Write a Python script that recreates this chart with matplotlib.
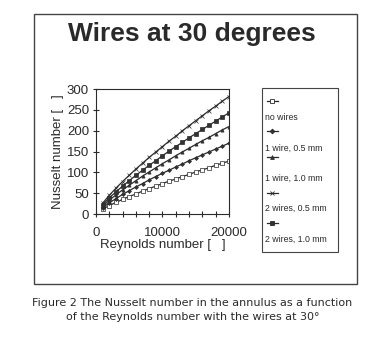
import matplotlib
matplotlib.use("Agg")
import matplotlib.pyplot as plt
from matplotlib.lines import Line2D
from matplotlib.patches import Rectangle
from matplotlib.ticker import MultipleLocator

# data
reynolds = [1000, 2000, 3000, 4000, 5000, 6000, 7000, 8000, 9000, 10000,
            11000, 12000, 13000, 14000, 15000, 16000, 17000, 18000, 19000, 20000]
no_wires = [12, 20, 28, 35, 42, 48, 55, 61, 67, 73,
            79, 84, 90, 95, 101, 106, 111, 117, 122, 127]
one_wire_05 = [15, 27, 37, 47, 56, 65, 73, 82, 90, 98,
               105, 113, 120, 128, 135, 142, 149, 156, 163, 170]
one_wire_10 = [19, 33, 46, 58, 69, 80, 91, 101, 111, 121,
               130, 140, 149, 158, 167, 176, 184, 193, 202, 210]
two_wires_05 = [26, 45, 62, 78, 93, 108, 122, 136, 149, 162,
                175, 187, 200, 212, 224, 236, 248, 259, 271, 282]
two_wires_10 = [22, 39, 53, 67, 80, 93, 105, 117, 128, 140,
                151, 162, 172, 183, 193, 203, 213, 223, 233, 243]

labels = ["no wires", "1 wire, 0.5 mm", "1 wire, 1.0 mm",
          "2 wires, 0.5 mm", "2 wires, 1.0 mm"]
series = [no_wires, one_wire_05, one_wire_10, two_wires_05, two_wires_10]
markers = ["s", "D", "^", "x", "s"]
facecols = ["white", "#333333", "#333333", "#333333", "#333333"]
msizes = [2.2, 2.0, 2.3, 2.2, 2.4]

ink = "#2a2a2a"

fig = plt.figure(figsize=(3.79, 3.39), dpi=100)
fig.patch.set_facecolor("white")

# outer chart frame
fig.add_artist(Rectangle((0.0897, 0.1622), 0.852, 0.7965, transform=fig.transFigure,
                         fill=False, edgecolor="#444444", linewidth=1.0))

fig.text(0.505, 0.900, "Wires at 30 degrees", ha="center", va="center",
         fontsize=19, fontweight="bold", color=ink, family="Liberation Sans")

ax = fig.add_axes([0.2533, 0.3687, 0.3509, 0.3687])
for ys, m, fc, ms in zip(series, markers, facecols, msizes):
    ax.plot(reynolds, ys, color=ink, linewidth=0.9, marker=m, markersize=ms,
            markerfacecolor=fc, markeredgecolor=ink, markeredgewidth=0.5)

ax.set_xlim(0, 20000)
ax.set_ylim(0, 300)
ax.xaxis.set_major_locator(MultipleLocator(10000))
ax.xaxis.set_minor_locator(MultipleLocator(2000))
ax.yaxis.set_major_locator(MultipleLocator(50))
ax.tick_params(which="both", direction="inout", length=4, width=0.8, color=ink,
               labelsize=9.5, labelcolor=ink)
ax.tick_params(axis="x", pad=7)
ax.tick_params(axis="y", pad=3)
for lab in ax.get_xticklabels() + ax.get_yticklabels():
    lab.set_family("Liberation Sans")
for s in ax.spines.values():
    s.set_color(ink)
    s.set_linewidth(0.8)
ax.set_xlabel("Reynolds number [   ]", fontsize=9.5, color=ink,
              family="Liberation Sans", labelpad=0)
ax.set_ylabel("Nusselt number [   ]", fontsize=9.5, color=ink,
              family="Liberation Sans", labelpad=2)

# legend box, Excel style: marker line above each label
fig.add_artist(Rectangle((0.6913, 0.2566), 0.2005, 0.4838, transform=fig.transFigure,
                         fill=False, edgecolor="#444444", linewidth=0.8))
line_y = [100.5, 131, 157.5, 193, 223]
text_y = [117, 148, 178, 208, 239]
for i, lab in enumerate(labels):
    yl = 1 - line_y[i] / 339
    fig.add_artist(Line2D([267 / 379, 272 / 379, 278 / 379], [yl, yl, yl],
                          transform=fig.transFigure,
                          color=ink, linewidth=0.9, marker=markers[i],
                          markersize=msizes[i] + 0.4, markerfacecolor=facecols[i],
                          markeredgecolor=ink, markeredgewidth=0.6, markevery=[1]))
    fig.text(265 / 379, 1 - text_y[i] / 339, lab, ha="left", va="center",
             fontsize=6.3, color=ink, family="Liberation Sans")

fig.text(0.508, 1 - 302.5 / 339,
         "Figure 2 The Nusselt number in the annulus as a function",
         ha="center", va="center", fontsize=8, color=ink)
fig.text(0.508, 1 - 316.5 / 339,
         "of the Reynolds number with the wires at 30\u00b0",
         ha="center", va="center", fontsize=8, color=ink)

fig.savefig("out.png", dpi=100, facecolor="white")
